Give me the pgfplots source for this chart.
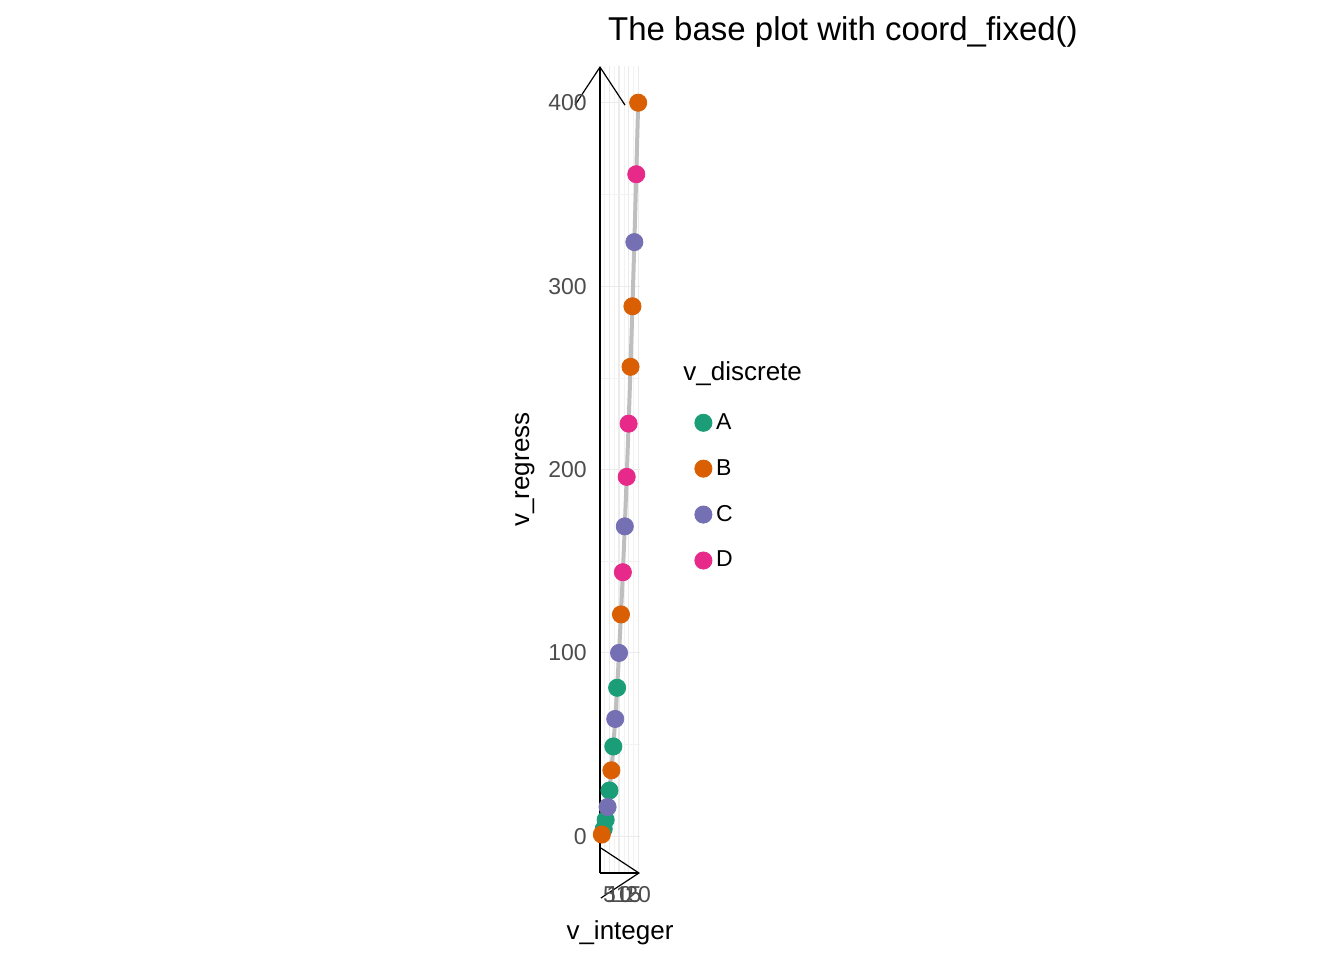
\documentclass[border=0pt]{standalone}
\usepackage{pgfplots}
\pgfplotsset{compat=1.18}
\usepackage{fontspec}
\setmainfont{Liberation Sans}
\usetikzlibrary{arrows.meta}
\definecolor{cA}{HTML}{1B9E77}
\definecolor{cB}{HTML}{D95F02}
\definecolor{cC}{HTML}{7570B3}
\definecolor{cD}{HTML}{E7298A}
\definecolor{tk}{HTML}{4D4D4D}
\begin{document}
\begin{tikzpicture}
\path (0,0) rectangle (672pt,-480pt);
\node[anchor=base] at (421.5pt,-20pt) {\fontsize{16.5}{19}\selectfont The base plot with coord\_fixed()};
\node[anchor=base west, inner sep=0pt] at (341.5pt,-190pt) {\fontsize{13}{15}\selectfont v\_discrete};
\begin{axis}[
  at={(300pt,-436.5pt)}, anchor=south west,
  scale only axis, width=20pt, height=403.5pt,
  xmin=0.05, xmax=20.95, ymin=-20, ymax=420,
  axis lines=left,
  axis line style={line width=0.6pt, -{Straight Barb[length=19pt,width=25pt,line width=0.6pt]}},
  xtick={5,10,15,20}, ytick={0,100,200,300,400},
  minor xtick={2.5,7.5,12.5,17.5}, minor ytick={50,150,250,350},
  grid=both,
  major grid style={color=black!8, line width=0.55pt},
  minor grid style={color=black!5, line width=0.3pt},
  tick style={draw=none},
  ticklabel style={font=\fontsize{11.5}{13}\selectfont, text=tk},
  /pgf/number format/assume math mode=true,
  yticklabel style={xshift=-1pt},
  xticklabel style={yshift=-1pt},
  xlabel={v\_integer}, ylabel={v\_regress},
  label style={font=\fontsize{13}{15}\selectfont},
  xlabel style={yshift=-2pt},
  ylabel style={yshift=0pt},
  legend style={at={(2.36,0.575)}, anchor=north west, draw=none, fill=none,
    font=\fontsize{11.5}{13}\selectfont, row sep=9.5pt, inner sep=0pt,
    /tikz/every even column/.append style={column sep=14pt}},
  legend cell align=left,
  legend image code/.code={\draw[#1] plot coordinates {(0.2cm,0cm)};},
  clip=false,
]
\addplot[forget plot, color=black!25, line width=2pt, smooth] coordinates {
(1,1)(2,4)(3,9)(4,16)(5,25)(6,36)(7,49)(8,64)(9,81)(10,100)(11,121)(12,144)(13,169)(14,196)(15,225)(16,256)(17,289)(18,324)(19,361)(20,400)};
\addplot[only marks, mark=*, mark size=4.3pt, color=cA] coordinates {(2,4)(3,9)(5,25)(7,49)(9,81)};
\addlegendentry{A}
\addplot[only marks, mark=*, mark size=4.3pt, color=cB] coordinates {(1,1)(6,36)(11,121)(16,256)(17,289)(20,400)};
\addlegendentry{B}
\addplot[only marks, mark=*, mark size=4.3pt, color=cC] coordinates {(4,16)(8,64)(10,100)(13,169)(18,324)};
\addlegendentry{C}
\addplot[only marks, mark=*, mark size=4.3pt, color=cD] coordinates {(12,144)(14,196)(15,225)(19,361)};
\addlegendentry{D}
\end{axis}
\end{tikzpicture}
\end{document}
